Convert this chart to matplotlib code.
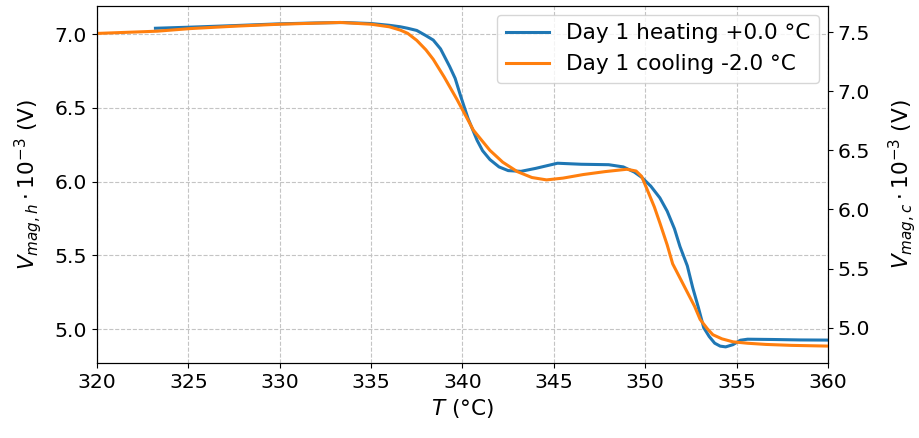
import matplotlib
matplotlib.use("Agg")
import matplotlib.pyplot as plt

# heating run (left axis)
t_heat = [323.2, 325.0, 327.5, 330.0, 332.0, 333.5, 335.0, 336.0, 336.6, 337.0,
          337.5, 338.0, 338.4, 338.8, 339.3, 339.6, 339.9, 340.3, 340.8, 341.1,
          341.5, 342.0, 342.5, 343.2, 344.0, 345.2, 346.5, 348.0, 348.8, 349.4,
          349.8, 350.3, 350.8, 351.2, 351.6, 351.9, 352.3, 352.6, 352.9, 353.2,
          353.5, 353.8, 354.1, 354.4, 354.8, 355.2, 355.6, 357.0, 358.5, 360.0]
v_heat = [7.040, 7.047, 7.058, 7.070, 7.076, 7.079, 7.072, 7.060, 7.050, 7.040,
          7.025, 6.990, 6.960, 6.900, 6.780, 6.700, 6.580, 6.430, 6.280, 6.210,
          6.150, 6.100, 6.075, 6.070, 6.090, 6.125, 6.118, 6.115, 6.100, 6.065,
          6.030, 5.970, 5.890, 5.800, 5.680, 5.560, 5.430, 5.280, 5.150, 5.010,
          4.950, 4.905, 4.885, 4.880, 4.895, 4.925, 4.932, 4.930, 4.927, 4.926]

# cooling run (right axis)
t_cool = [320.0, 323.3, 325.1, 327.5, 330.0, 333.3, 335.0, 336.0, 336.6, 337.0,
          337.5, 338.0, 338.4, 339.0, 339.7, 340.6, 341.5, 342.2, 343.0, 343.8,
          344.6, 345.5, 346.6, 347.8, 349.0, 349.5, 349.8, 350.1, 350.5, 350.8,
          351.2, 351.5, 351.9, 352.3, 352.7, 353.0, 353.4, 353.7, 354.2, 354.8,
          355.6, 356.6, 358.0, 360.0]
v_cool = [7.489, 7.508, 7.530, 7.550, 7.567, 7.582, 7.567, 7.545, 7.517, 7.490,
          7.430, 7.350, 7.270, 7.120, 6.930, 6.670, 6.500, 6.400, 6.320, 6.270,
          6.250, 6.265, 6.295, 6.320, 6.340, 6.325, 6.280, 6.170, 6.020, 5.886,
          5.700, 5.540, 5.420, 5.300, 5.180, 5.070, 4.990, 4.940, 4.905, 4.880,
          4.868, 4.858, 4.850, 4.844]

plt.rcParams["font.size"] = 15.6
plt.rcParams["xtick.labelsize"] = 14.7
plt.rcParams["ytick.labelsize"] = 14.7

fig = plt.figure(figsize=(9.19, 4.38), dpi=100)
ax1 = fig.add_axes([0.1055, 0.171, 0.7955, 0.815])
ax2 = ax1.twinx()

l1, = ax1.plot(t_heat, v_heat, color="tab:blue", linewidth=2.2, label="Day 1 heating +0.0 °C")
l2, = ax2.plot(t_cool, v_cool, color="tab:orange", linewidth=2.2, label="Day 1 cooling -2.0 °C")

ax1.set_xlim(320, 360)
ax1.set_ylim(4.77, 7.19)
ax2.set_ylim(4.70, 7.72)
ax1.set_yticks([5.0, 5.5, 6.0, 6.5, 7.0])
ax2.set_yticks([5.0, 5.5, 6.0, 6.5, 7.0, 7.5])

ax1.grid(True, linestyle="--", color="#c4c4c4", linewidth=0.8)
ax1.set_xlabel("$T$ (°C)")
ax1.set_ylabel(r"$V_{mag,h} \cdot 10^{-3}$ (V)", labelpad=8)
ax2.set_ylabel(r"$V_{mag,c} \cdot 10^{-3}$ (V)", labelpad=11)

ax2.legend(handles=[l1, l2], loc="upper right", borderaxespad=0.4)

fig.savefig("out.png", dpi=100)
